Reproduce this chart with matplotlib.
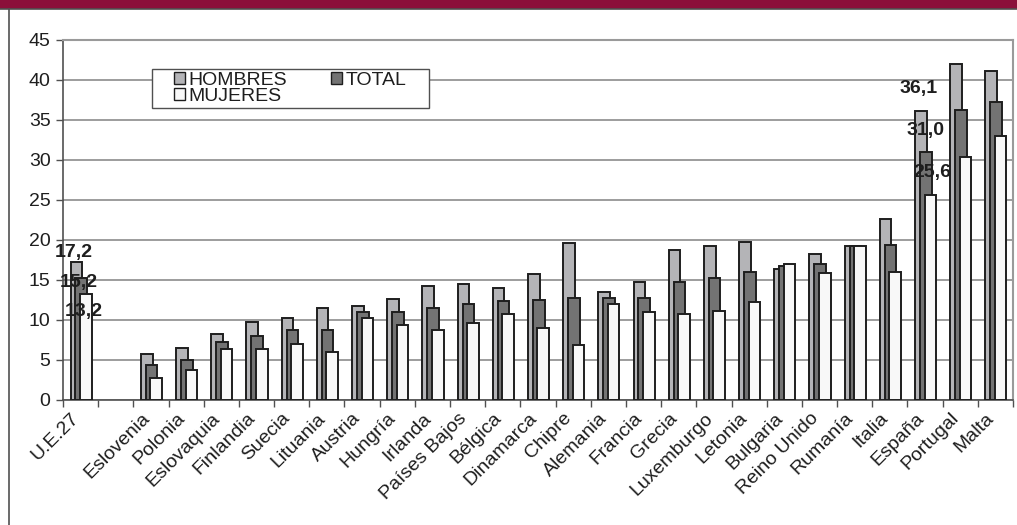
import numpy as np
import matplotlib
matplotlib.use("Agg")
import matplotlib.pyplot as plt
import matplotlib.transforms as mtransforms
from matplotlib.patches import Rectangle, Patch
from matplotlib.lines import Line2D

plt.rcParams['font.family'] = ['Liberation Sans', 'DejaVu Sans']

categories = ['U.E.27', '', 'Eslovenia', 'Polonia', 'Eslovaquia', 'Finlandia', 'Suecia',
              'Lituania', 'Austria', 'Hungría', 'Irlanda', 'Países Bajos', 'Bélgica',
              'Dinamarca', 'Chipre', 'Alemania', 'Francia', 'Grecia', 'Luxemburgo',
              'Letonia', 'Bulgaria', 'Reino Unido', 'Rumanía', 'Italia', 'España',
              'Portugal', 'Malta']
nan = np.nan
hombres = [17.2, nan, 5.7, 6.5, 8.2, 9.8, 10.3, 11.5, 11.7, 12.6, 14.3, 14.5, 14.0, 15.8,
           19.6, 13.5, 14.7, 18.7, 19.3, 19.8, 16.4, 18.3, 19.3, 22.6, 36.1, 42.0, 41.1]
total = [15.2, nan, 4.4, 5.0, 7.2, 8.0, 8.7, 8.8, 11.0, 11.0, 11.5, 12.0, 12.4, 12.5,
         12.7, 12.8, 12.8, 14.8, 15.2, 16.0, 16.7, 17.0, 19.3, 19.4, 31.0, 36.3, 37.3]
mujeres = [13.2, nan, 2.8, 3.7, 6.4, 6.4, 7.0, 6.0, 10.3, 9.4, 8.8, 9.6, 10.7, 9.0,
           6.9, 12.0, 11.0, 10.8, 11.1, 12.3, 17.0, 15.9, 19.2, 16.0, 25.6, 30.4, 33.0]
labelled = {0: ('17,2', '15,2', '13,2'), 24: ('36,1', '31,0', '25,6')}
series_names = ['HOMBRES', 'TOTAL', 'MUJERES']
yticks = [0, 5, 10, 15, 20, 25, 30, 35, 40, 45]

W, H = 1017, 525
FS = 14
fig = plt.figure(figsize=(W / 100, H / 100), dpi=100)

# header band and frame
fig.patches.append(Rectangle((0, 1 - 8.5 / H), 1, 8.5 / H, transform=fig.transFigure,
                             facecolor='#8b0f3a', edgecolor='none', zorder=0))
fig.lines.append(Line2D([0, 1], [1 - 9 / H, 1 - 9 / H], transform=fig.transFigure,
                        color='#505050', lw=1.2))
fig.lines.append(Line2D([8.5 / W, 8.5 / W], [0, 1 - 9 / H], transform=fig.transFigure,
                        color='#505050', lw=1.2))

ax = fig.add_axes([63 / W, 1 - 400 / H, (1013 - 63) / W, 360 / H])

x = np.arange(len(categories))
colors = ['#b4b4b7', '#737373', '#f8f8f8']
offsets = [-0.12, 0.02, 0.15]
width = 0.33
data = [hombres, total, mujeres]
for i, (vals, c, off) in enumerate(zip(data, colors, offsets)):
    ax.bar(x + off, vals, width=width, color=c, edgecolor='#1e1e1e', linewidth=1.4,
           zorder=3 + i, label=series_names[i])

ax.set_xlim(-0.5, len(categories) - 0.5)
ax.set_ylim(0, 45)
ax.set_yticks(yticks)
ax.yaxis.grid(True, color='#8c8c8c', lw=1.2, zorder=0)
ax.set_axisbelow(True)
ax.tick_params(axis='y', labelsize=FS, length=5, width=1, color='#505050', pad=4,
               labelcolor='#1e1e1e')

ax.set_xticks(x)
ax.set_xticklabels(categories, rotation=45, ha='right', rotation_mode='anchor',
                   fontsize=FS, color='#1e1e1e')
ax.tick_params(axis='x', length=0, pad=7)
shift = mtransforms.ScaledTranslation(-10 / 100, 0, fig.dpi_scale_trans)
for t in ax.get_xticklabels():
    t.set_transform(t.get_transform() + shift)
ax.set_xticks(np.arange(-0.5, len(categories)), minor=True)
ax.tick_params(axis='x', which='minor', length=5, width=1, color='#505050')

for s in ['left', 'bottom']:
    ax.spines[s].set_color('#505050')
    ax.spines[s].set_linewidth(1.2)
for s in ['top', 'right']:
    ax.spines[s].set_color('#9a9a9a')
    ax.spines[s].set_linewidth(1.5)

# data labels
label_dy = {0: (1.3, -0.45, -2.15), 24: (2.8, 2.7, 2.9)}
label_dx = {0: (-0.13, -0.13, -0.1), 24: (-0.12, 0.0, 0.14)}
for idx, labs in labelled.items():
    for k, lab in enumerate(labs):
        ax.text(x[idx] + offsets[k] + label_dx[idx][k] * 0.5,
                data[k][idx] + label_dy[idx][k], lab, ha='center', va='center',
                fontsize=FS, fontweight='bold', color='#1e1e1e', zorder=10)

# legend box (white background, drawn over gridlines)
fig.patches.append(Rectangle((152 / W, 1 - 108 / H), (429 - 152) / W, 39 / H,
                             transform=fig.transFigure, facecolor='white',
                             edgecolor='#505050', lw=1.0, zorder=5))
handles = [Patch(facecolor=colors[0], edgecolor='#1e1e1e'),
           Patch(facecolor=colors[2], edgecolor='#1e1e1e'),
           Patch(facecolor=colors[1], edgecolor='#1e1e1e')]
labels = ['HOMBRES', 'MUJERES', 'TOTAL']
leg = fig.legend(handles, labels, ncol=2, loc='upper left',
                 bbox_to_anchor=(174 / W, 1 - 72 / H),
                 fontsize=FS, frameon=False,
                 handlelength=0.55, handleheight=0.55, handletextpad=0.2,
                 labelspacing=-0.05, columnspacing=2.25, borderpad=0.0,
                 borderaxespad=0)
leg.set_zorder(20)
for tx in leg.get_texts():
    tx.set_color('#1e1e1e')

fig.savefig('out.png', dpi=100, facecolor='white')
